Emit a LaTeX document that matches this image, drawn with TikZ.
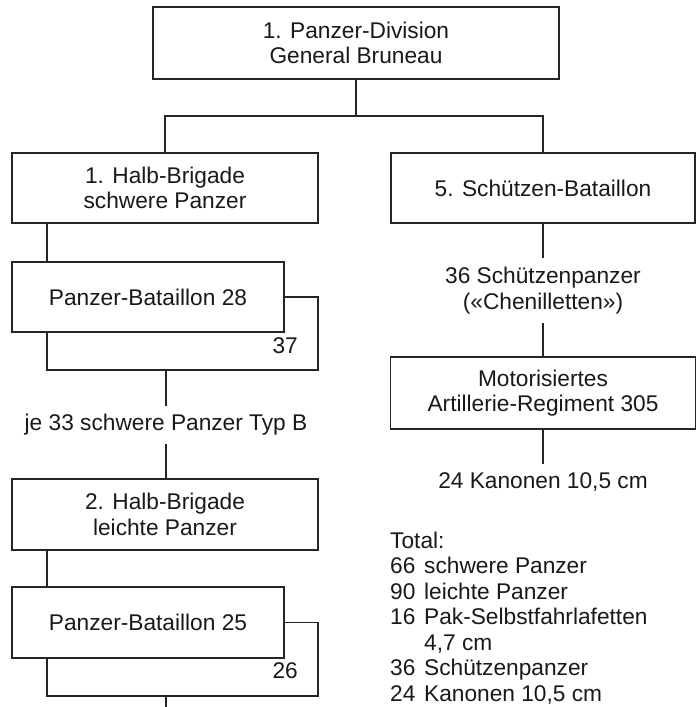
\documentclass[tikz,border=0pt]{standalone}
\usepackage{fontspec}
\setmainfont{Liberation Sans}
\begin{document}
\begin{tikzpicture}[x=1pt,y=-1pt,
  every node/.style={font=\fontsize{22.7}{25.4}\selectfont, text=black!90},
  unit/.style={draw=black!85, line width=1.1pt, inner sep=0pt, align=center},
  caption/.style={inner sep=0pt, align=center},
  link/.style={draw=black!85, line width=1.1pt},
]
\useasboundingbox[fill=white] (0,0) rectangle (699,707);

% --- units ---
\node[unit, minimum width=406pt, minimum height=72pt] (div) at (356,43)
  {1. Panzer-Division\\General Bruneau};
\node[unit, minimum width=306pt, minimum height=70pt] (hb1) at (165,188)
  {1. Halb-Brigade\\schwere Panzer};
\node[unit, minimum width=304pt, minimum height=70pt] (sb5) at (543,188)
  {5. Schützen-Bataillon};
\node[unit, minimum width=272pt, minimum height=70pt] (pb28) at (148,297)
  {Panzer-Bataillon 28};
\node[unit, minimum width=306pt, minimum height=71pt] (hb2) at (165,514.5)
  {2. Halb-Brigade\\leichte Panzer};
\node[unit, minimum width=272pt, minimum height=71pt] (pb25) at (148,622.5)
  {Panzer-Bataillon 25};
\node[unit, minimum width=305pt, minimum height=72pt] (art) at (543,393)
  {Motorisiertes\\Artillerie-Regiment 305};

% --- equipment captions ---
\node[caption, minimum height=38pt] (je) at (166,425) {je 33 schwere Panzer Typ B};
\node[caption, minimum height=65pt] (chen) at (543,290.5)
  {36 Schützenpanzer\\(«Chenilletten»)};
\node[caption, minimum height=36pt] (kan) at (543,482) {24 Kanonen 10,5 cm};
\node[caption, anchor=base east] (n37) at (298,353) {37};
\node[caption, anchor=base east] (n26) at (298,678) {26};

% --- totals ---
\newcommand{\qty}[1]{\makebox[34pt][l]{#1}}
\node[caption, anchor=base west] (t0) at (390,548) {Total:};
\node[caption, anchor=base west] (t1) at (390,573.5) {\qty{66}schwere Panzer};
\node[caption, anchor=base west] (t2) at (390,599) {\qty{90}leichte Panzer};
\node[caption, anchor=base west] (t3) at (390,624.5) {\qty{16}Pak-Selbstfahrlafetten};
\node[caption, anchor=base west] (t4) at (390,650) {\qty{}4,7 cm};
\node[caption, anchor=base west] (t5) at (390,675.5) {\qty{36}Schützenpanzer};
\node[caption, anchor=base west] (t6) at (390,701) {\qty{24}Kanonen 10,5 cm};

% --- helper points ---
\coordinate (hub) at (356,116);
\coordinate (br28) at (318,370);
\coordinate (bl28) at (47,370);
\coordinate (br25) at (318,696);
\coordinate (bl25) at (47,696);
\coordinate (tail) at (166,707);

% --- connectors ---
\draw[link] (div.south) -- (hub);
\draw[link] (hb1.north) -- (hb1.north |- hub) -- (sb5.north |- hub) -- (sb5.north);
\draw[link] (hb1.south -| bl28) -- (pb28.north -| bl28);
\draw[link] (pb28.east) -| (br28) -- (bl28) -- (pb28.south -| bl28);
\draw[link] (je.north |- bl28) -- (je.north);
\draw[link] (je.south) -- (hb2.north -| je.south);
\draw[link] (hb2.south -| bl25) -- (pb25.north -| bl25);
\draw[link] (pb25.east) -| (br25) -- (bl25) -- (pb25.south -| bl25);
\draw[link] (tail |- bl25) -- (tail);
\draw[link] (sb5.south) -- (chen.north);
\draw[link] (chen.south) -- (art.north);
\draw[link] (art.south) -- (kan.north);
\end{tikzpicture}
\end{document}
